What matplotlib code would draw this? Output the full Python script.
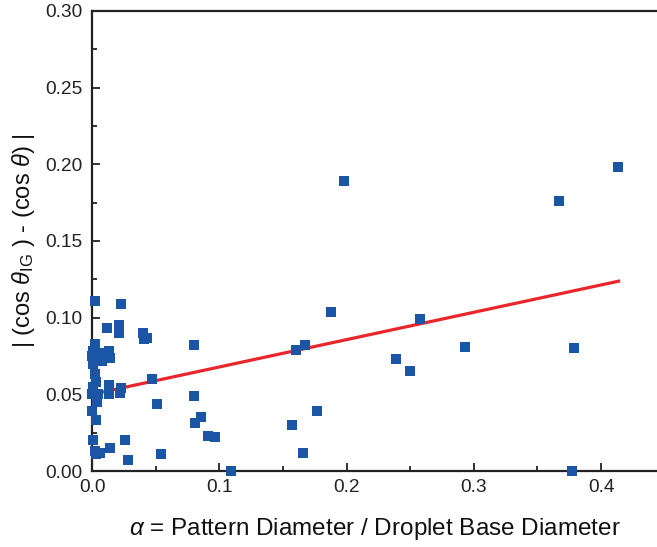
import matplotlib
matplotlib.use("Agg")
import matplotlib.pyplot as plt
from matplotlib.ticker import MultipleLocator, FormatStrFormatter

plt.rcParams['font.family'] = ['Liberation Sans', 'DejaVu Sans']
plt.rcParams['mathtext.fontset'] = 'custom'
plt.rcParams['mathtext.rm'] = 'Liberation Sans'
plt.rcParams['mathtext.it'] = 'Liberation Sans:italic'

# data (alpha, |cos theta_IG - cos theta|)
alpha = [
    0.413, 0.367, 0.379, 0.377, 0.293, 0.258, 0.250, 0.239,
    0.198, 0.188, 0.167, 0.160, 0.177, 0.157, 0.166,
    0.080, 0.080, 0.086, 0.081, 0.091, 0.097, 0.109,
    0.047, 0.051, 0.054, 0.028, 0.026, 0.014,
    0.040, 0.043, 0.041, 0.023, 0.021, 0.021, 0.012, 0.002,
    0.013, 0.023, 0.022, 0.013,
    0.002, 0.001, 0.000, 0.003, 0.006, 0.010, 0.013, 0.014, 0.008, 0.001,
    0.002, 0.003, 0.001, 0.000, 0.004, 0.005, 0.004, 0.000, 0.003,
    0.001, 0.003, 0.006, 0.002,
]
delta_cos = [
    0.198, 0.176, 0.080, 0.000, 0.081, 0.099, 0.065, 0.073,
    0.189, 0.104, 0.082, 0.079, 0.039, 0.030, 0.012,
    0.082, 0.049, 0.035, 0.031, 0.023, 0.022, 0.000,
    0.060, 0.044, 0.011, 0.007, 0.020, 0.015,
    0.090, 0.087, 0.086, 0.109, 0.095, 0.090, 0.093, 0.111,
    0.056, 0.054, 0.051, 0.050,
    0.083, 0.078, 0.075, 0.073, 0.077, 0.076, 0.078, 0.074, 0.072, 0.070,
    0.063, 0.058, 0.055, 0.050, 0.047, 0.050, 0.045, 0.039, 0.033,
    0.020, 0.011, 0.012, 0.013,
]

# linear fit line endpoints
fit_x = [0.0, 0.415]
fit_y = [0.050, 0.124]

fig = plt.figure(figsize=(6.57, 5.47), dpi=100)
ax = fig.add_axes([92/657, 1 - 471/547, 1 - 92/657, (471 - 11)/547])

ax.plot(fit_x, fit_y, color='#e8262b', lw=2.3, zorder=2, solid_capstyle='butt')
ax.plot(alpha, delta_cos, linestyle='none', marker='s', markersize=7.6,
        color='#1b56a6', markeredgewidth=0, zorder=3, clip_on=False)

ax.set_xlim(0, 0.444)
ax.set_ylim(0, 0.30)
ax.xaxis.set_major_locator(MultipleLocator(0.1))
ax.xaxis.set_minor_locator(MultipleLocator(0.05))
ax.yaxis.set_major_locator(MultipleLocator(0.05))
ax.yaxis.set_minor_locator(MultipleLocator(0.025))
ax.xaxis.set_major_formatter(FormatStrFormatter('%.1f'))
ax.yaxis.set_major_formatter(FormatStrFormatter('%.2f'))

ax.tick_params(which='both', direction='in', width=1.3, colors='#222222',
               labelsize=13.8, labelcolor='#222222')
ax.tick_params(which='major', length=6)
ax.tick_params(which='minor', length=3.5)
ax.tick_params(axis='x', pad=6)
ax.tick_params(axis='y', pad=7)

for s in ['left', 'bottom', 'top']:
    ax.spines[s].set_linewidth(1.6)
    ax.spines[s].set_color('#222222')
ax.spines['right'].set_visible(False)

ax.set_xlabel(r'$\alpha$ = Pattern Diameter / Droplet Base Diameter',
              fontsize=17.5, color='#111111', labelpad=14)
ax.set_ylabel(r'| (cos $\theta_{\mathrm{IG}}$ ) - (cos $\theta$) |',
              fontsize=17, color='#111111', labelpad=6)

fig.savefig('out.png', dpi=100)
